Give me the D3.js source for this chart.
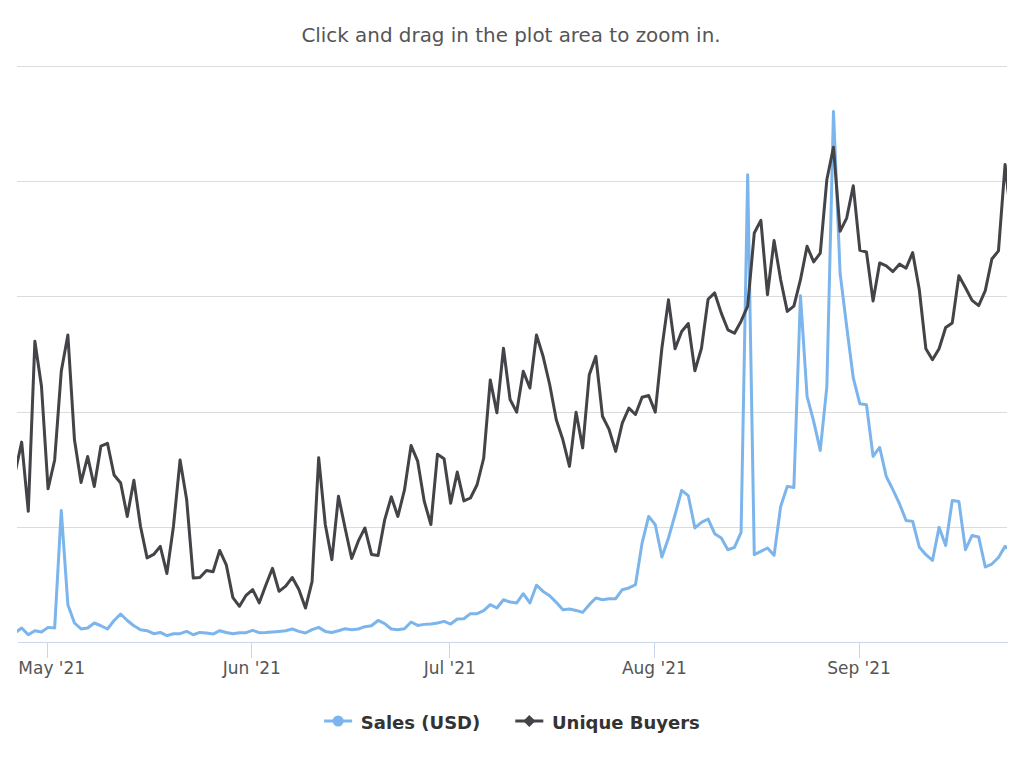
<!DOCTYPE html>
<html>
<head>
<meta charset="utf-8">
<script src="https://cdn.jsdelivr.net/npm/d3@7/dist/d3.min.js"></script>
<style>
  body { margin: 0; background: #fff; }
  svg { display: block; font-family: "DejaVu Sans", Verdana, sans-serif; }
</style>
</head>
<body>
<svg id="chart" width="1024" height="768"></svg>
<script>
// one value per day; first and last fall just outside the visible range
var firstDay = '2021-04-26T05:00:00Z';
var xExtent = ['2021-04-26T12:00:00Z', '2021-09-23T12:00:00Z'];

// sales, thousands of USD
var salesK = [
  8.1, 12.2, 6.3, 9.8, 8.7, 12.7, 12.2, 114.2, 32.4, 16.5,
  11.3, 12.2, 16.5, 14.1, 11.3, 18.7, 24.3, 18.7, 14.1, 10.7,
  9.8, 7.2, 8.3, 5.5, 7.2, 7.2, 9.2, 6.3, 8.3, 7.8,
  6.9, 9.8, 8.3, 7.2, 8.1, 8.1, 10.1, 8.1, 8.3, 8.7,
  9.2, 9.8, 11.3, 9.2, 7.8, 10.7, 12.7, 9.2, 8.3, 9.8,
  11.5, 10.7, 11.3, 13.3, 14.1, 18.7, 15.9, 11.3, 10.7, 11.5,
  17.4, 14.4, 15.3, 15.6, 16.5, 17.9, 15.6, 20.0, 20.2, 24.6,
  24.6, 27.2, 32.4, 29.5, 36.7, 34.7, 33.9, 41.9, 33.9, 49.3,
  43.9, 40.2, 34.4, 28.0, 28.6, 27.4, 25.7, 32.4, 38.2, 36.7,
  37.6, 37.6, 45.4, 46.9, 49.7, 85.9, 109.0, 101.8, 73.8, 90.3,
  110.5, 131.6, 127.0, 99.0, 103.8, 106.8, 94.0, 90.3, 80.1, 82.1,
  95.1, 405.6, 75.8, 78.6, 81.6, 75.2, 117.7, 135.1, 134.2, 300.6,
  213.2, 191.5, 166.3, 221.9, 460.6, 320.3, 273.9, 229.2, 206.8, 206.0,
  161.1, 168.9, 143.7, 132.2, 120.0, 105.5, 104.7, 82.5, 75.8, 70.8,
  99.5, 83.8, 122.9, 122.0, 80.1, 92.5, 91.1, 65.1, 67.7, 73.4,
  83.0, 79.2
];

var buyers = [
  294, 347, 227, 522, 444, 266, 316, 470, 533, 351,
  277, 322, 270, 340, 345, 290, 276, 218, 281, 201,
  146, 152, 166, 119, 201, 316, 247, 111, 112, 124,
  122, 159, 134, 77, 62, 81, 91, 68, 99, 128,
  88, 97, 112, 91, 59, 105, 320, 204, 143, 253,
  198, 145, 175, 198, 152, 150, 212, 252, 218, 264,
  341, 314, 244, 204, 326, 318, 241, 295, 245, 250,
  273, 319, 455, 398, 510, 421, 399, 470, 441, 533,
  496, 447, 386, 351, 305, 399, 337, 464, 496, 392,
  369, 331, 380, 406, 395, 425, 428, 399, 510, 594,
  509, 539, 553, 471, 510, 595, 606, 571, 542, 536,
  557, 583, 710, 732, 603, 697, 629, 574, 583, 629,
  687, 660, 675, 803, 859, 713, 736, 792, 680, 677,
  592, 658, 653, 643, 656, 649, 676, 612, 509, 490,
  509, 546, 554, 636, 615, 593, 584, 610, 665, 679,
  829, 726
];

var seriesNames = ['Sales (USD)', 'Unique Buyers'];
var seriesColors = ['#7cb5ec', '#434348'];
var seriesSymbols = ['circle', 'diamond'];
var salesTicks = [0, 100, 200, 300, 400, 500];
var buyersTicks = [0, 200, 400, 600, 800, 1000];
var subtitle = 'Click and drag in the plot area to zoom in.';
var monthFormat = "%b '%y";


var margin = {top: 66, right: 17, bottom: 126, left: 17};
var W = 1024, H = 768;
var width = W - margin.left - margin.right;
var height = H - margin.top - margin.bottom;

var svg = d3.select('#chart');

var start = new Date(firstDay);
function dayOf(i) {
  return d3.utcDay.offset(start, i);
}

var x = d3.scaleUtc()
  .domain(xExtent.map(function(s) { return new Date(s); }))
  .range([0, width]);

var ySales = d3.scaleLinear()
  .domain(d3.extent(salesTicks))
  .range([height, 0]);

var yBuyers = d3.scaleLinear()
  .domain(d3.extent(buyersTicks))
  .range([height, 0]);

var series = [
  {name: seriesNames[0], color: seriesColors[0], symbol: seriesSymbols[0], y: ySales,
    values: salesK.map(function(v, i) { return {date: dayOf(i), value: v}; })},
  {name: seriesNames[1], color: seriesColors[1], symbol: seriesSymbols[1], y: yBuyers,
    values: buyers.map(function(v, i) { return {date: dayOf(i), value: v}; })}
];


svg.append('text')
  .attr('x', W / 2 - 1)
  .attr('y', 41.7)
  .attr('text-anchor', 'middle')
  .attr('fill', '#555')
  .style('font-size', '19.9px')
  .text(subtitle);

var plot = svg.append('g')
  .attr('transform', translate(margin.left, margin.top));

plot.append('defs')
  .append('clipPath')
    .attr('id', 'plot-clip')
  .append('rect')
    .attr('x', 0)
    .attr('y', -10)
    .attr('width', width)
    .attr('height', height + 20);

drawGrid(plot);
drawXAxis(plot);
drawLines(plot);
drawLegend(svg);


function drawGrid(g) {
  var grid = g.append('g')
    .attr('class', 'grid')
    .call(d3.axisLeft(ySales)
      .tickValues(salesTicks.slice(1))
      .tickSize(-width)
      .tickFormat(''));

  grid.select('.domain').remove();
  grid.selectAll('line')
    .attr('stroke', '#dcdcdc')
    .attr('stroke-width', 1)
    .attr('shape-rendering', 'crispEdges');
}


function drawXAxis(g) {
  var axis = g.append('g')
    .attr('transform', translate(0, height))
    .call(d3.axisBottom(x)
      .ticks(d3.utcMonth.every(1))
      .tickFormat(d3.utcFormat(monthFormat))
      .tickSize(16)
      .tickSizeOuter(0));

  axis.select('.domain')
    .attr('stroke', '#ccd6eb')
    .attr('shape-rendering', 'crispEdges');

  axis.selectAll('.tick line')
    .attr('stroke', '#ccd6eb')
    .attr('shape-rendering', 'crispEdges');

  axis.selectAll('.tick text')
    .attr('y', 32)
    .attr('dy', null)
    .attr('fill', '#555')
    .style('font-size', '17px')
    .style('font-family', '"DejaVu Sans", Verdana, sans-serif');

  // keep labels from spilling past the left edge, as the original does
  axis.selectAll('.tick text').each(function() {
    var box = this.getBBox();
    var tx = this.parentNode.transform.baseVal.consolidate().matrix.e;
    var left = tx + box.x;
    if (left < 1.3) {
      d3.select(this).attr('x', 1.3 - left);
    }
  });
}


function drawLines(g) {
  g.append('g')
    .attr('clip-path', 'url(#plot-clip)')
    .selectAll('path')
    .data(series)
    .join('path')
      .attr('fill', 'none')
      .attr('stroke', function(d) { return d.color; })
      .attr('stroke-width', 3)
      .attr('stroke-linejoin', 'round')
      .attr('stroke-linecap', 'round')
      .attr('d', function(d) {
        return d3.line()
          .x(function(p) { return x(p.date); })
          .y(function(p) { return d.y(p.value); })(d.values);
      });
}


function drawLegend(root) {
  var symbolW = 28, textGap = 8.7, itemGap = 35, cy = 721;

  var legend = root.append('g');

  var items = legend.selectAll('.legend-item')
    .data(series)
    .join('g')
      .attr('class', 'legend-item');

  items.append('line')
    .attr('x1', 0)
    .attr('x2', symbolW)
    .attr('y1', 0)
    .attr('y2', 0)
    .attr('stroke', function(d) { return d.color; })
    .attr('stroke-width', 3);

  items.append('path')
    .attr('transform', translate(symbolW / 2, 0))
    .attr('fill', function(d) { return d.color; })
    .attr('d', function(d) {
      return d.symbol === 'circle'
        ? d3.symbol(d3.symbolCircle, 95)()
        : 'M0,-6L6,0L0,6L-6,0Z';
    });

  items.append('text')
    .attr('x', symbolW + textGap)
    .attr('y', 8)
    .attr('fill', '#333')
    .style('font-size', '18px')
    .style('font-weight', 'bold')
    .text(function(d) { return d.name; });

  var offset = 0;
  items.each(function() {
    var w = symbolW + textGap + this.querySelector('text').getComputedTextLength();
    d3.select(this).attr('transform', translate(offset, 0));
    offset += w + itemGap;
  });
  var total = offset - itemGap;

  legend.attr('transform', translate((W - total) / 2, cy));
}


function translate(x, y) {
  return 'translate(' + x + ',' + y + ')';
}
</script>
</body>
</html>
